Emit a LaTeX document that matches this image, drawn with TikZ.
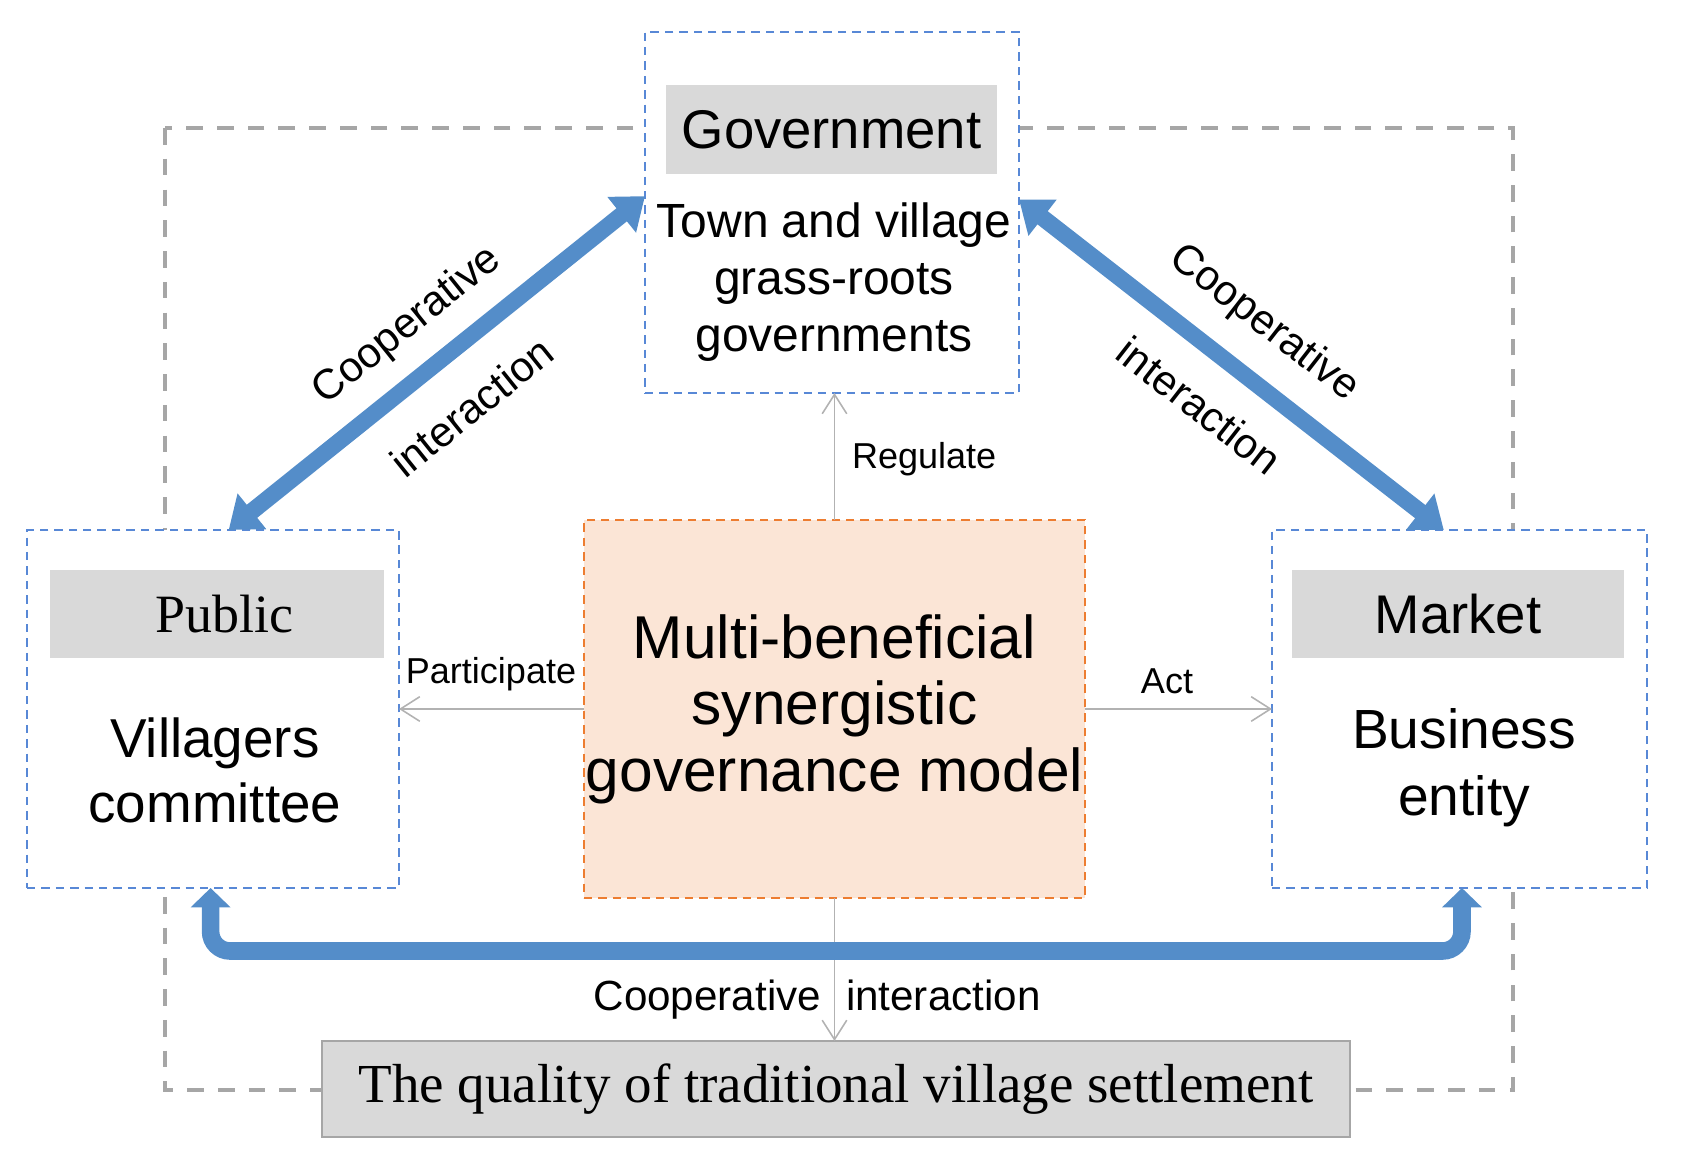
\documentclass[tikz,border=0pt]{standalone}
\usepackage{fontspec}
\setmainfont{Liberation Sans}
\newfontfamily\timesfont{Liberation Serif}
\usetikzlibrary{arrows.meta}
\definecolor{boxblue}{RGB}{88,136,214}
\definecolor{arrowblue}{RGB}{84,141,201}
\definecolor{modelorange}{RGB}{237,125,49}
\definecolor{modelfill}{RGB}{251,229,214}
\definecolor{headgray}{RGB}{217,217,217}
\definecolor{framegray}{RGB}{166,166,166}
\definecolor{relgray}{RGB}{178,178,178}
\begin{document}
\begin{tikzpicture}[scale=0.2]
    \tikzstyle{every node}+=[inner sep=0pt, outer sep=0pt]
    \tikzstyle{actor}=[draw=boxblue, fill=white, line width=1.35pt, dash pattern=on 4.8pt off 3.4pt]
    \tikzstyle{headbox}=[fill=headgray, font=\fontsize{31pt}{37pt}\selectfont]
    \tikzstyle{relarrow}=[draw=relgray, line width=0.9pt, -{Straight Barb[length=11pt,width=14pt]}]
    \tikzstyle{coop}=[arrowblue, line width=9.5pt]
    \tikzstyle{coopfont}=[text=black, font=\fontsize{24pt}{28pt}\selectfont]
    \tikzstyle{smallfont}=[text=black, font=\fontsize{20.5pt}{24pt}\selectfont]
    \useasboundingbox (0,0) rectangle (168.6,-117.1);
    \draw [framegray, line width=1.9pt, dash pattern=on 9.5pt off 8pt] (16.5,-12.8) rectangle (151.3,-109);
    \node [actor, minimum width=7.48cm, minimum height=7.22cm] (gov) at (83.2,-21.25) {};
    \node [headbox, minimum width=6.62cm, minimum height=1.78cm] (govhead) at (83.15,-12.95) {Government};
    \node [align=center, font=\fontsize{27.3pt}{32.4pt}\selectfont] (govtext) at (83.4,-28.2) {Town and village\\grass-roots\\governments};
    \node [actor, minimum width=7.44cm, minimum height=7.16cm] (pub) at (21.3,-70.9) {};
    \node [headbox, minimum width=6.68cm, minimum height=1.76cm, font=\timesfont\fontsize{30.7pt}{37pt}\selectfont] (pubhead) at (21.7,-61.4) {\hspace{9pt}Public};
    \node [align=center, font=\fontsize{31.2pt}{37pt}\selectfont] (pubtext) at (21.5,-77.0) {Villagers\\committee};
    \node [actor, minimum width=7.5cm, minimum height=7.16cm] (mkt) at (145.95,-70.9) {};
    \node [headbox, minimum width=6.64cm, minimum height=1.76cm] (mkthead) at (145.8,-61.4) {Market};
    \node [align=center, font=\fontsize{31.4pt}{38pt}\selectfont] (mkttext) at (146.4,-76.8) {Business\\entity};
    \node [draw=modelorange, fill=modelfill, line width=1.35pt, dash pattern=on 4.8pt off 3.4pt, minimum width=10.02cm, minimum height=7.56cm, align=center, font=\fontsize{34.4pt}{37.8pt}\selectfont] (model) at (83.45,-70.9) {Multi-beneficial\\synergistic\\governance model};
    \node [draw=framegray, fill=headgray, line width=1.1pt, minimum width=20.56cm, minimum height=1.92cm, font=\timesfont\fontsize{31.3pt}{37pt}\selectfont] (quality) at (83.6,-108.9) {The quality of traditional village settlement};
    \draw [relarrow] (model.west) -- (pub.east);
    \draw [relarrow] (model.east) -- (mkt.west);
    \draw [relarrow] (model.north) -- (model.north |- gov.south);
    \draw [relarrow] (model.south) -- (model.south |- quality.north);
    \node [smallfont, anchor=base] (participate) at (49.1,-68.3) {Participate};
    \node [smallfont, anchor=base] (act) at (116.7,-69.3) {Act};
    \node [smallfont, anchor=base west] (regulate) at (85.2,-46.9) {Regulate};
    \node [coopfont, anchor=base east] (coopbottom) at (82.1,-101.0) {Cooperative};
    \node [coopfont, anchor=base west] (interbottom) at (84.6,-101.0) {interaction};
    \draw [coop, {Triangle[width=25pt,length=17pt]}-{Triangle[width=25pt,length=17pt]}] (pub.85) -- (gov.175.6)
        node [coopfont, midway, sloped, above=15.6pt] (coopleft) {Cooperative}
        node [coopfont, midway, sloped, below=23pt] (interleft) {interaction};
    \draw [coop, {Triangle[width=25pt,length=17pt]}-{Triangle[width=25pt,length=17pt]}] (gov.4.4) -- (mkt.95)
        node [coopfont, midway, sloped, above=18.6pt] (coopright) {Cooperative}
        node [coopfont, midway, sloped, below=20.8pt] (interright) {interaction};
    \draw [coop, line width=10pt, rounded corners=11pt, {Triangle[width=22pt,length=11pt]}-{Triangle[width=22pt,length=11pt]}] ([xshift=-6.8pt]pub.south) -- ++(0,-6.3) -| ([xshift=7.1pt]mkt.south);
\end{tikzpicture}
\end{document}
